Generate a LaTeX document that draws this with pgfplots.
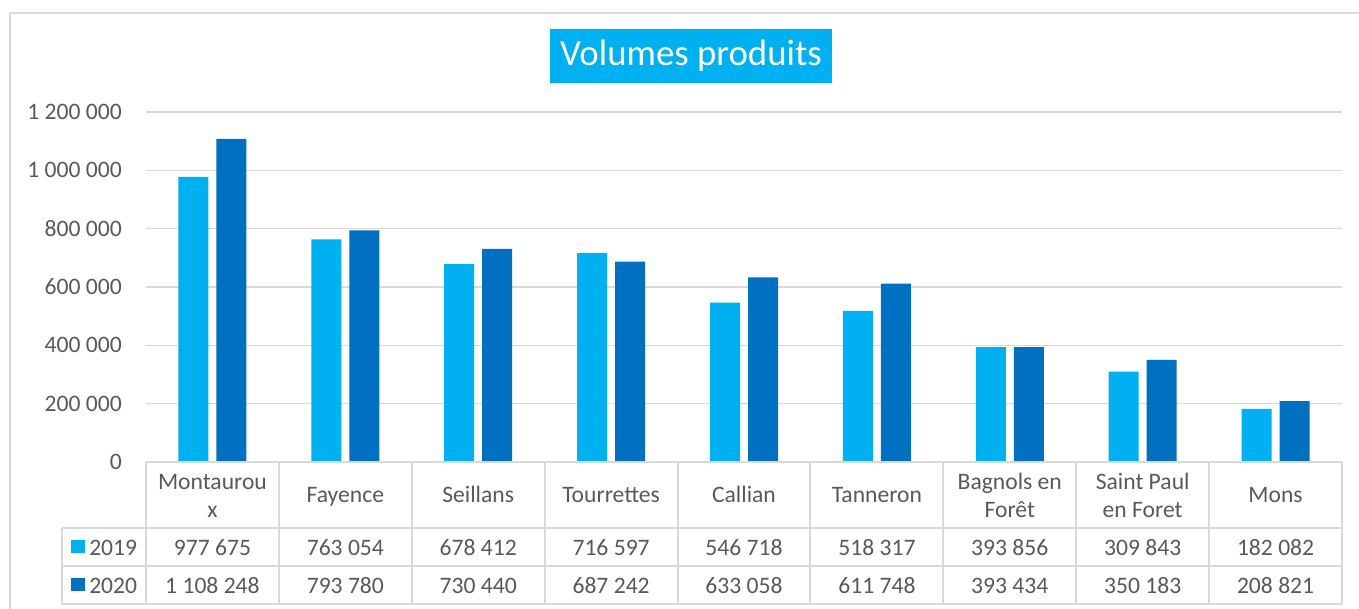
\documentclass[border=0pt]{standalone}
\usepackage{pgfplots}
\pgfplotsset{compat=1.18}
\usepackage{fontspec}
\setmainfont{Carlito}
\definecolor{cA}{HTML}{00B0F0}
\definecolor{cB}{HTML}{0070C0}
\definecolor{txt}{HTML}{595959}
\definecolor{grd}{HTML}{D9D9D9}
\begin{document}
\begin{tikzpicture}
\useasboundingbox (0,0) rectangle (1019.25pt,-456.75pt);
\begin{axis}[
  at={(109.5pt,-346.5pt)}, anchor=south west,
  scale only axis, width=897pt, height=262.5pt,
  xmin=-0.5, xmax=8.5, ymin=0, ymax=1200000,
  ytick={0,200000,400000,600000,800000,1000000,1200000},
  xtick=\empty,
  ymajorgrids, grid style={grd, line width=1.2pt},
  axis line style={draw=none},
  major tick length=0pt,
  ybar, bar width=22.5pt,
  yticklabel style={font=\fontsize{17.7pt}{21pt}\selectfont, text=txt, anchor=east, inner sep=0pt, xshift=-18pt},
  /pgf/number format/.cd, fixed, precision=0, 1000 sep={\ }, assume math mode=true,
  /tikz/.cd,
  scaled y ticks=false,
  clip=false,
]
\addplot[fill=cA, draw=none, bar shift=-14.25pt] coordinates {(0,977675) (1,763054) (2,678412) (3,716597) (4,546718) (5,518317) (6,393856) (7,309843) (8,182082)};
\addplot[fill=cB, draw=none, bar shift=14.25pt] coordinates {(0,1108248) (1,793780) (2,730440) (3,687242) (4,633058) (5,611748) (6,393434) (7,350183) (8,208821)};
\end{axis}
\begin{scope}[x=0.75pt, y=-0.75pt]
  % outer frame
  \draw[grd, line width=1.5pt] (10,700) -- (10,13) -- (1400,13);
  % title
  \fill[cA] (550,29) rectangle (832,83);
  \node[text=white, font=\fontsize{27.6pt}{32pt}\selectfont] at (691,56) {Volumes produits};
  % table lines
  \begin{scope}[grd, line width=1.5pt]
    \draw (146,462) -- (1342,462);
    \draw (62,528) -- (1342,528);
    \draw (62,566) -- (1342,566);
    \draw (62,604) -- (1342,604);
    \draw (62,528) -- (62,604);
    \foreach \k in {0,...,9} { \draw ({146+132.889*\k},462) -- ({146+132.889*\k},604); }
  \end{scope}
  \begin{scope}[every node/.style={text=txt, font=\fontsize{17.7pt}{21pt}\selectfont, anchor=base, inner sep=0pt}]
    \foreach \lab [count=\i from 0] in {Fayence,Seillans,Tourrettes,Callian,Tanneron} {
      \node at ({146+132.889*(\i+1.5)},502) {\lab};
    }
    \node at ({146+132.889*8.5},502) {Mons};
    \node at ({146+132.889*0.5},489) {Montaurou};
    \node at ({146+132.889*0.5},517) {x};
    \node at ({146+132.889*6.5},489) {Bagnols en};
    \node at ({146+132.889*6.5},517) {Forêt};
    \node at ({146+132.889*7.5},489) {Saint Paul};
    \node at ({146+132.889*7.5},517) {en Foret};
    \foreach \v [count=\i from 0] in {977 675,763 054,678 412,716 597,546 718,518 317,393 856,309 843,182 082} {
      \node at ({146+132.889*(\i+0.5)},555) {\v};
    }
    \foreach \v [count=\i from 0] in {1 108 248,793 780,730 440,687 242,633 058,611 748,393 434,350 183,208 821} {
      \node at ({146+132.889*(\i+0.5)},593) {\v};
    }
    \fill[cA] (71,540) rectangle (85,553);
    \fill[cB] (71,578) rectangle (85,591);
    \node[anchor=base west] at (89,555) {2019};
    \node[anchor=base west] at (89,593) {2020};
  \end{scope}
\end{scope}
\end{tikzpicture}
\end{document}
